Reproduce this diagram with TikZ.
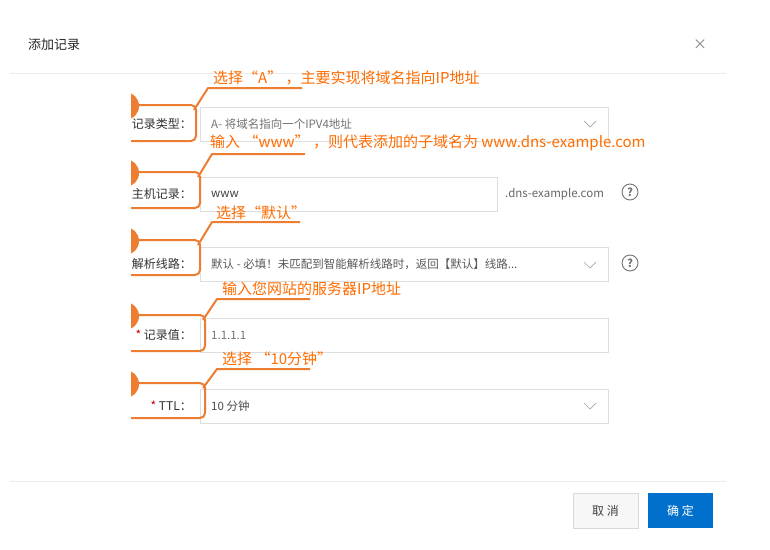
\documentclass[tikz,border=0pt]{standalone}
\usepackage{fontspec}
\setmainfont{Noto Sans CJK SC}
\begin{document}
\begin{tikzpicture}[x=1pt,y=-1pt,
  field/.style={draw=black!13,line width=0.8pt,fill=white},
  lbl/.style={anchor=east,font=\fontsize{12}{14}\selectfont,text=black!80,inner sep=0},
  val/.style={anchor=west,font=\fontsize{11.5}{14}\selectfont,text=black!55,inner sep=0},
  ann/.style={anchor=south west,font=\fontsize{15}{17}\selectfont,text=orange!85!red,inner sep=0},
  oline/.style={draw={rgb,255:red,237;green,125;blue,49},line width=2pt,rounded corners=5pt},
  chev/.style={draw=black!35,line width=0.7pt},
  qm/.style={draw=black!55,circle,line width=0.9pt,minimum size=16pt,inner sep=0,font=\fontsize{11}{12}\selectfont\bfseries,text=black!55}]
\definecolor{oc}{RGB}{237,125,49}
\useasboundingbox (0,0) rectangle (770,549);
\fill[white] (0,0) rectangle (770,549);
\node[anchor=west,font=\fontsize{13}{15}\selectfont,text=black!85,inner sep=0] (title) at (28,45) {添加记录};
\node[font=\fontsize{14}{15}\selectfont,text=black!50,inner sep=0] (close) at (700,45) {×};
\draw[black!8,line width=0.8pt] (10,73) -- (726,73);
\draw[black!8,line width=0.8pt] (10,481) -- (726,481);
% fields
\draw[field] (200,107) rectangle (608,141);
\draw[field] (200,177) rectangle (497,211);
\draw[field] (200,247) rectangle (608,281);
\draw[field] (200,318) rectangle (608,352);
\draw[field] (200,389) rectangle (608,423);
\draw[chev] (584,121) -- (590,127) -- (596,121);
\draw[chev] (584,262) -- (590,268) -- (596,262);
\draw[chev] (584,403) -- (590,409) -- (596,403);
\node[lbl] (l1) at (192,124) {记录类型：};
\node[lbl] (l2) at (192,194) {主机记录：};
\node[lbl] (l3) at (192,264) {解析线路：};
\node[lbl] (l4) at (192,335) {\textcolor{red!80!black}{*} 记录值：};
\node[lbl] (l5) at (192,406) {\textcolor{red!80!black}{*} TTL：};
\node[val] (v1) at (211,124) {A- 将域名指向一个IPV4地址};
\node[val,text=black!75] (v2) at (211,194) {www};
\node[anchor=west,font=\fontsize{11.5}{14}\selectfont,text=black!60,inner sep=0] (dom) at (505,194) {.dns-example.com};
\node[val,text=black!65] (v3) at (211,264) {默认 - 必填！未匹配到智能解析线路时，返回【默认】线路...};
\node[val] (v4) at (211,335) {1.1.1.1};
\node[val,text=black!70] (v5) at (211,406) {10 分钟};
\node[qm] (q1) at (630,192) {?};
\node[qm] (q2) at (630,263) {?};
% buttons
\node[draw=black!15,fill=black!3,minimum width=65pt,minimum height=35pt,inner sep=0,font=\fontsize{12}{14}\selectfont,text=black!75] (cancel) at (605.5,510.5) {取 消};
\node[fill={rgb,255:red,0;green,112;blue,204},minimum width=65pt,minimum height=35pt,inner sep=0,font=\fontsize{12}{14}\selectfont,text=white] (ok) at (680.5,510.5) {确 定};
% annotations
\begin{scope}
\clip (131,0) rectangle (770,549);
\foreach \t/\b/\r/\ly/\lx [count=\i] in {105/141/196/88/302, 172/208/200/154/305, 240/275/200/222/300, 315/351/205/299/310, 383/418/205/369/310}{
  \fill[oc] (125,\t+1) circle (14);
  \draw[oline] (125,\t) -- (\r,\t) -- (\r,\b) -- (125,\b);
  \draw[oc,line width=2pt,line join=round] (\r-2,\t+5) -- (\r+12,\ly) -- (\lx,\ly);
}
\end{scope}
\node[ann] (a1) at (213,85) {选择“A” ，主要实现将域名指向IP地址};
\node[ann] (a2) at (210,151) {输入 “www” ，则代表添加的子域名为 www.dns-example.com};
\node[ann] (a3) at (216,220) {选择“默认”};
\node[ann] (a4) at (222,296) {输入您网站的服务器IP地址};
\node[ann] (a5) at (222,366) {选择 “10分钟”};
\end{tikzpicture}
\end{document}
